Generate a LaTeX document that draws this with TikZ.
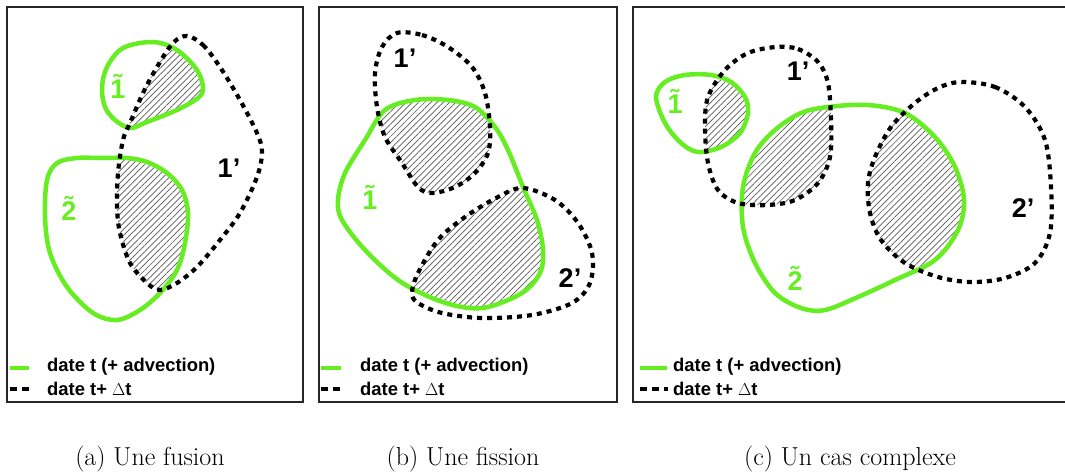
\documentclass[tikz,border=0pt]{standalone}
\usepackage{fontspec}
\setmainfont{Latin Modern Roman}
\newfontfamily\arial{Liberation Sans}
\usetikzlibrary{patterns.meta}
\definecolor{vert}{RGB}{102,238,34}
\tikzset{
  frame/.style={draw=black!85, line width=1.1pt},
  gline/.style={draw=vert, line width=4.5pt},
  dline/.style={draw=black, line width=4.2pt, dash pattern=on 5pt off 5pt},
  hatch/.style={pattern={Lines[angle=45,distance=4.4pt,line width=0.7pt]}, pattern color=black!65},
  lab/.style={font=\arial\bfseries\fontsize{27}{29}\selectfont, inner sep=0pt},
  glab/.style={lab, text=vert},
  leg/.style={font=\arial\bfseries\fontsize{18.4}{20}\selectfont, anchor=west, inner sep=0pt},
  captxt/.style={font=\fontsize{26}{30}\selectfont, inner sep=0pt}
}
\def\Aone{plot[smooth cycle, tension=0.55] coordinates {(153,42) (177,50) (197,70) (203,88) (198,98) (177,110) (147,122) (130,128) (115,120) (105,107) (102,88) (107,67) (123,48)}}
\def\Ap{plot[smooth cycle, tension=0.55] coordinates {(187,36) (203,45) (220,67) (240,100) (257,133) (262,152) (257,177) (240,213) (220,240) (197,267) (177,283) (160,290) (147,283) (130,263) (120,233) (117,207) (118,173) (123,140) (130,123) (143,93) (157,67) (173,43)}}
\def\Atwo{plot[smooth cycle, tension=0.55] coordinates {(100,158) (127,158) (147,162) (167,173) (182,190) (188,213) (185,243) (177,270) (160,293) (140,310) (117,320) (93,313) (67,287) (50,253) (45,217) (47,180) (57,163) (77,158)}}
\def\Bp{plot[smooth cycle, tension=0.55] coordinates {(397,33) (422,35) (448,47) (472,67) (485,93) (490,127) (488,153) (475,173) (455,187) (432,193) (418,187) (402,163) (385,137) (377,107) (375,73) (382,47)}}
\def\Bone{plot[smooth cycle, tension=0.55] coordinates {(415,100) (448,100) (475,107) (495,127) (508,150) (523,187) (537,220) (543,250) (540,273) (522,293) (488,307) (462,307) (432,298) (398,280) (365,250) (342,220) (338,200) (345,173) (365,140) (385,110)}}
\def\Bq{plot[smooth cycle, tension=0.55] coordinates {(412,293) (418,273) (438,240) (465,217) (498,197) (523,188) (555,200) (578,223) (592,253) (590,283) (572,303) (532,315) (482,318) (442,313) (418,303)}}
\def\Cone{plot[smooth cycle, tension=0.55] coordinates {(656,97) (665,82) (685,75) (711,75) (731,82) (745,97) (748,113) (740,133) (721,147) (698,152) (681,143) (665,123)}}
\def\Cp{plot[smooth cycle, tension=0.55] coordinates {(776,47) (798,49) (818,62) (828,83) (831,120) (830,157) (818,183) (795,200) (768,205) (738,203) (718,190) (708,163) (705,127) (708,97) (725,70) (748,53)}}
\def\Ctwo{plot[smooth cycle, tension=0.55] coordinates {(828,107) (868,105) (905,113) (935,137) (955,167) (964,200) (958,230) (935,260) (895,280) (858,297) (825,310) (801,308) (775,293) (755,263) (743,227) (743,187) (755,153) (775,130) (801,113)}}
\def\Cq{plot[smooth cycle, tension=0.55] coordinates {(961,82) (995,87) (1025,107) (1045,140) (1051,187) (1050,233) (1035,263) (1005,278) (971,282) (938,277) (905,263) (881,240) (870,213) (868,183) (875,157) (891,127) (915,103) (938,88)}}
\begin{document}
\begin{tikzpicture}[x=1pt,y=-1pt]
\useasboundingbox (0,0) rectangle (1065,471);
\fill[white] (0,0) rectangle (1065,471);
% frames
\draw[frame] (7,7) rectangle (303,402);
\draw[frame] (319,7) rectangle (617,402);
\draw[frame] (633,7) rectangle (1068,402);
% hatching
\begin{scope}\clip \Aone; \fill[hatch] \Ap; \end{scope}
\begin{scope}\clip \Atwo; \fill[hatch] \Ap; \end{scope}
\begin{scope}\clip \Bone; \fill[hatch] \Bp; \end{scope}
\begin{scope}\clip \Bone; \fill[hatch] \Bq; \end{scope}
\begin{scope}\clip \Cone; \fill[hatch] \Cp; \end{scope}
\begin{scope}\clip \Ctwo; \fill[hatch] \Cp; \end{scope}
\begin{scope}\clip \Ctwo; \fill[hatch] \Cq; \end{scope}
% contours
\draw[gline] \Aone; \draw[gline] \Atwo;
\draw[dline] \Ap;
\draw[gline] \Bone;
\draw[dline] \Bp; \draw[dline] \Bq;
\draw[gline] \Cone; \draw[gline] \Ctwo;
\draw[dline] \Cp; \draw[dline] \Cq;
% labels
\node[glab] (a1) at (118,86) {\~{1}};
\node[glab] (a2) at (69,208) {\~{2}};
\node[lab] (a1p) at (229,168) {1’};
\node[lab] (b1p) at (405,58) {1’};
\node[glab] (b1) at (370,197) {\~{1}};
\node[lab] (b2p) at (570,278) {2’};
\node[glab] (c1) at (675,101) {\~{1}};
\node[lab] (c1p) at (798,71) {1’};
\node[glab] (c2) at (795,278) {\~{2}};
\node[lab] (c2p) at (1023,208) {2’};
% legends
\coordinate (la0) at (10,368); \coordinate (la1) at (29,368);
\draw[draw=vert, line width=4.5pt] (la0) -- (la1);
\coordinate (lb0) at (10,389); \coordinate (lb1) at (30,389);
\draw[black, line width=4.5pt, dash pattern=on 7pt off 5pt] (lb0) -- (lb1);
\node[leg] (ta1) at (47,367) {date t (+ advection)};
\node[leg] (ta2) at (47,389) {date t+ $\Delta$t};
\coordinate (lc0) at (321,368); \coordinate (lc1) at (341,368);
\draw[draw=vert, line width=4.5pt] (lc0) -- (lc1);
\coordinate (ld0) at (321,389); \coordinate (ld1) at (341,389);
\draw[black, line width=4.5pt, dash pattern=on 7pt off 5pt] (ld0) -- (ld1);
\node[leg] (tb1) at (360,367) {date t (+ advection)};
\node[leg] (tb2) at (360,389) {date t+ $\Delta$t};
\coordinate (le0) at (640,368); \coordinate (le1) at (667,368);
\draw[draw=vert, line width=4.5pt] (le0) -- (le1);
\coordinate (lf0) at (640,389); \coordinate (lf1) at (668,389);
\draw[black, line width=4.5pt, dash pattern=on 7pt off 5pt] (lf0) -- (lf1);
\node[leg] (tc1) at (673,367) {date t (+ advection)};
\node[leg] (tc2) at (673,389) {date t+ $\Delta$t};
% captions
\node[captxt] (capa) at (150,459) {(a) Une fusion};
\node[captxt] (capb) at (463,459) {(b) Une fission};
\node[captxt] (capc) at (850,459) {(c) Un cas complexe};
\end{tikzpicture}
\end{document}
